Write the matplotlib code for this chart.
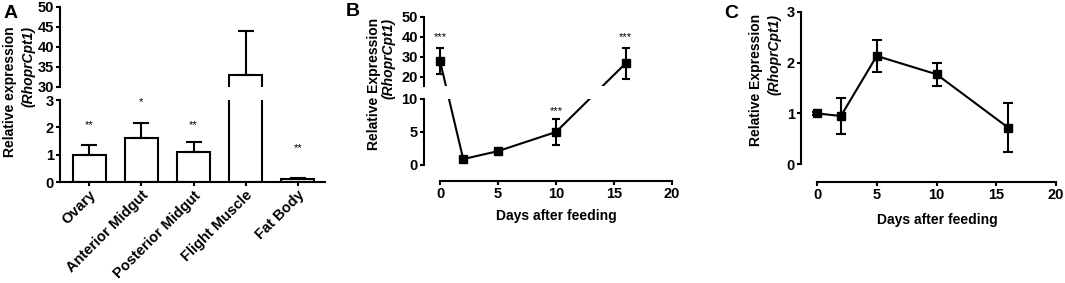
import numpy as np
import matplotlib
matplotlib.use('Agg')
import matplotlib.pyplot as plt

plt.rcParams['font.family'] = ['Liberation Sans', 'DejaVu Sans']

# ---- datos panel A (tejidos)
tissues = ['Ovary', 'Anterior Midgut', 'Posterior Midgut', 'Flight Muscle', 'Fat Body']
tissue_mean = [1.0, 1.62, 1.1, 33.0, 0.1]
tissue_err = [0.37, 0.55, 0.37, 11.0, 0.05]
tissue_sig = ['**', '*', '**', '', '**']
tissue_sig_y = [2.08, 2.94, 2.08, None, 1.24]

# ---- datos panel B (dias despues de alimentar)
days_b = [0, 2, 5, 10, 16]
expr_b = [28.0, 0.9, 2.1, 5.0, 26.8]
err_b = [6.5, 0.15, 0.15, 1.9, 7.6]
sig_b = ['***', '', '', '***', '***']
sig_b_y = [40, None, None, 8.2, 40]

# ---- datos panel C
days_c = [0, 2, 5, 10, 16]
expr_c = [1.0, 0.95, 2.13, 1.77, 0.72]
err_c = [0.03, 0.35, 0.32, 0.23, 0.48]

W, H = 1065, 283
fig = plt.figure(figsize=(W / 100, H / 100), dpi=100)
LW = 1.5
TICK_FS = 10.5
LAB_FS = 10


def caja(x0, y0, x1, y1):
    return fig.add_axes([x0 / W, 1 - y1 / H, (x1 - x0) / W, (y1 - y0) / H])


def texto(x, y, s, **kw):
    fig.text(x / W, 1 - y / H, s, **kw)


def estilo(ax):
    for lado in ['top', 'right']:
        ax.spines[lado].set_visible(False)
    for lado in ['left', 'bottom']:
        ax.spines[lado].set_linewidth(LW)
    ax.tick_params(width=LW, length=3, pad=1.5, direction='out')
    ax.set_facecolor('none')


def sin_eje_x(ax):
    ax.spines['bottom'].set_visible(False)
    ax.tick_params(axis='x', bottom=False, labelbottom=False)


def yticks(ax, vals):
    ax.set_yticks(vals, [str(v) for v in vals], fontweight='bold', fontsize=TICK_FS)


def ylabel(x1, x2, y, texto1):
    texto(x1, y, texto1, rotation=90, ha='center', va='top', fontsize=LAB_FS, fontweight='bold')
    texto(x2, y, '(RhoprCpt1)', rotation=90, ha='center', va='top', fontsize=LAB_FS,
          fontweight='bold', fontstyle='italic')


# ================= Panel A =================
axA_top = caja(60, 7, 325, 87)
axA_bot = caja(60, 100, 325, 182)
pos = np.arange(len(tissues))
for ax in [axA_top, axA_bot]:
    estilo(ax)
    ax.bar(pos, tissue_mean, width=0.63, color='white', edgecolor='black', linewidth=LW)
    ax.errorbar(pos, tissue_mean, yerr=[np.zeros(len(pos)), tissue_err], fmt='none',
                ecolor='black', elinewidth=LW, capsize=6, capthick=LW)
    ax.set_xlim(-0.56, 4.52)

axA_top.set_ylim(30, 50)
yticks(axA_top, [30, 35, 40, 45, 50])
sin_eje_x(axA_top)

axA_bot.set_ylim(0, 3)
yticks(axA_bot, [0, 1, 2, 3])
axA_bot.set_xticks(pos, tissues, rotation=45, ha='right', rotation_mode='anchor',
                   fontweight='bold', fontsize=TICK_FS)
for i, s in enumerate(tissue_sig):
    if s:
        axA_bot.text(pos[i], tissue_sig_y[i], s, ha='center', va='center', fontsize=8)

ylabel(10, 29, 26, 'Relative expression')
texto(11, 13, 'A', ha='center', va='center', fontsize=14, fontweight='bold')

# ================= Panel B =================
# escala partida: 0-10 abajo, 15.5-50 arriba, misma relacion pixel para que las rectas sigan
ys_q = [-1e4, 10, 15.5, 1e4]
fs_q = [-6.6e4, 66, 79, 79 + 2 * (1e4 - 15.5)]


def fwd(y):
    return np.interp(y, ys_q, fs_q)


def inv(f):
    return np.interp(f, fs_q, ys_q)


axB_top = caja(424, 17, 672, 86)
axB_bot = caja(424, 99, 672, 168.3)
for ax in [axB_top, axB_bot]:
    estilo(ax)
    ax.set_yscale('function', functions=(fwd, inv))
    ax.errorbar(days_b, expr_b, yerr=err_b, fmt='-s', color='black', lw=LW, ms=6,
                elinewidth=LW, capsize=3, capthick=LW)
    ax.set_xlim(-1.38, 20)

axB_top.set_ylim(15.5, 50)
yticks(axB_top, [20, 30, 40, 50])
sin_eje_x(axB_top)

axB_bot.set_ylim(-0.5, 10)
yticks(axB_bot, [0, 5, 10])
axB_bot.spines['left'].set_bounds(0, 10)
axB_bot.spines['bottom'].set_position(('outward', 9.1))
axB_bot.spines['bottom'].set_bounds(0, 20)
axB_bot.set_xticks([0, 5, 10, 15, 20], ['0', '5', '10', '15', '20'], fontweight='bold', fontsize=TICK_FS)

for d, s, y in zip(days_b, sig_b, sig_b_y):
    if s:
        ax = axB_top if y > 10 else axB_bot
        ax.text(d, y, s, ha='center', va='center', fontsize=8)

texto(556, 216, 'Days after feeding', ha='center', va='center', fontsize=LAB_FS, fontweight='bold')
ylabel(374, 389, 18, 'Relative Expression')
texto(353, 12, 'B', ha='center', va='center', fontsize=14, fontweight='bold')

# ================= Panel C =================
axC = caja(801, 11.7, 1056, 164.3)
estilo(axC)
axC.errorbar(days_c, expr_c, yerr=err_c, fmt='-s', color='black', lw=LW, ms=6,
             elinewidth=LW, capsize=3.5, capthick=LW, clip_on=False)
axC.set_xlim(-1.34, 20)
axC.set_ylim(0, 3)
yticks(axC, [0, 1, 2, 3])
axC.spines['bottom'].set_position(('outward', 12.5))
axC.spines['bottom'].set_bounds(0, 20)
axC.set_xticks([0, 5, 10, 15, 20], ['0', '5', '10', '15', '20'], fontweight='bold', fontsize=TICK_FS)

texto(937, 220, 'Days after feeding', ha='center', va='center', fontsize=LAB_FS, fontweight='bold')
ylabel(756, 774, 14, 'Relative Expression')
texto(731, 13, 'C', ha='center', va='center', fontsize=14, fontweight='bold')

fig.savefig('out.png', dpi=100)
